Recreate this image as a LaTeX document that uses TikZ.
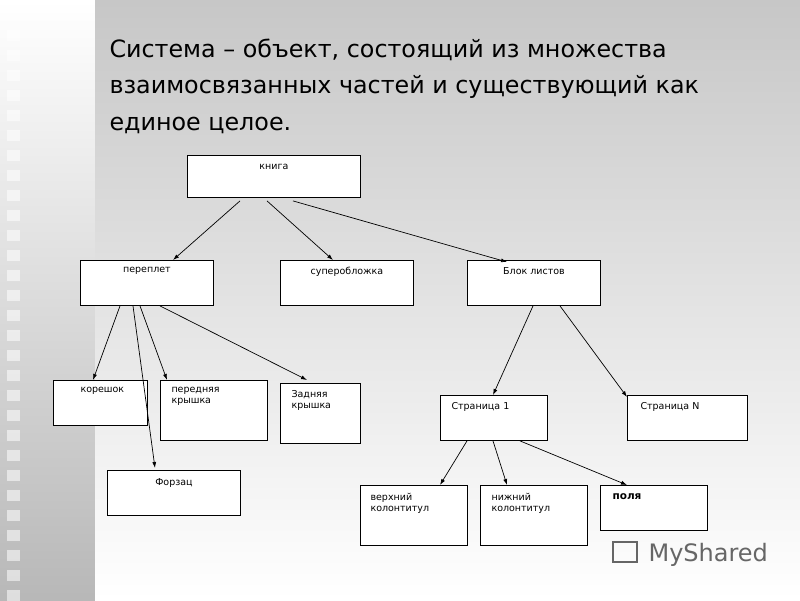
\documentclass[tikz,border=0pt]{standalone}
\usepackage{fontspec}
\setmainfont{DejaVu Sans}
\usetikzlibrary{calc,arrows.meta}
\begin{document}
\begin{tikzpicture}[x=1pt,y=-1pt,
  bx/.style={draw=black,fill=white,line width=0.9pt,anchor=north west,inner sep=0pt},
  lbl/.style={font=\fontsize{9.5}{10.5}\selectfont,align=left,anchor=north west},
  ar/.style={-{Latex[length=6pt,width=4pt]},line width=0.7pt}]
\useasboundingbox (0,0) rectangle (800,600);
\shade[top color=white,bottom color=black!28] (0,0) rectangle (95,600);
\shade[top color=black!22,bottom color=white] (95,0) rectangle (800,600);
\foreach \i in {0,...,28} {
  \fill[white,opacity=0.55] (7,{30+\i*20}) rectangle (20,{41+\i*20});
}
\node[anchor=north west,align=left,font=\fontsize{23.8}{36.5}\selectfont] (title) at (106,35)
 {Система – объект, состоящий из  множества\\взаимосвязанных частей и существующий как\\единое целое.};
\newcommand\mybox[5]{\node[bx,minimum width=#4,minimum height=#5] (#1) at (#2,#3) {};}
\mybox{kn}{187}{155}{173}{42}
\mybox{pe}{80}{260}{133}{45}
\mybox{su}{280}{260}{133}{45}
\mybox{bl}{467}{260}{133}{45}
\mybox{ko}{53}{380}{94}{45}
\mybox{pk}{160}{380}{107}{60}
\mybox{zk}{280}{383}{80}{60}
\mybox{fo}{107}{470}{133}{45}
\mybox{s1}{440}{395}{107}{45}
\mybox{sn}{627}{395}{120}{45}
\mybox{vk}{360}{485}{107}{60}
\mybox{nk}{480}{485}{107}{60}
\mybox{po}{600}{485}{107}{45}
\node[lbl,anchor=north] at ($(kn.north)+(0,6)$) {книга};
\node[lbl,anchor=north] at ($(pe.north)+(0,4)$) {переплет};
\node[lbl,anchor=north] at ($(su.north)+(0,4)$) {суперобложка};
\node[lbl,anchor=north] at ($(bl.north)+(0,4)$) {Блок листов};
\node[lbl] at ($(ko.north west)+(24,4)$) {корешок};
\node[lbl] at ($(pk.north west)+(8,4)$) {передняя\\крышка};
\node[lbl] at ($(zk.north west)+(8,4)$) {Задняя\\крышка};
\node[lbl,anchor=north] at ($(fo.north)+(0,5)$) {Форзац};
\node[lbl] at ($(s1.north west)+(8,4)$) {Страница 1};
\node[lbl] at ($(sn.north west)+(10,4)$) {Страница  N};
\node[lbl] at ($(vk.north west)+(7,5)$) {верхний\\колонтитул};
\node[lbl] at ($(nk.north west)+(8,5)$) {нижний\\колонтитул};
\node[lbl,font=\fontsize{10.5}{11}\selectfont\bfseries] at ($(po.north west)+(9,5)$) {поля};
\draw[ar] ($(kn.south west)+(53,3)$) -- ($(pe.north west)+(93,0)$);
\draw[ar] ($(kn.south west)+(80,3)$) -- ($(su.north west)+(53,0)$);
\draw[ar] ($(kn.south west)+(106,3)$) -- ($(bl.north west)+(40,2)$);
\draw[ar] ($(pe.south west)+(40,0)$) -- ($(ko.north west)+(40,0)$);
\draw[ar] ($(pe.south west)+(53,0)$) -- ($(fo.north west)+(48,-2)$);
\draw[ar] ($(pe.south west)+(60,0)$) -- ($(pk.north west)+(7,0)$);
\draw[ar] ($(pe.south west)+(80,0)$) -- ($(zk.north west)+(27,-3)$);
\draw[ar] ($(bl.south west)+(66,0)$) -- ($(s1.north west)+(53,0)$);
\draw[ar] ($(bl.south west)+(93,0)$) -- ($(sn.north west)+(0,2)$);
\draw[ar] ($(s1.south west)+(27,0)$) -- ($(vk.north west)+(80,0)$);
\draw[ar] ($(s1.south west)+(53,0)$) -- ($(nk.north west)+(27,0)$);
\draw[ar] ($(s1.south west)+(80,0)$) -- ($(po.north west)+(27,0)$);
\node[anchor=west,text=black!60,font=\fontsize{24}{26}\selectfont] (ms) at (645,555) {MyShared};
\node[draw=black!60,line width=1.5pt,minimum width=24,minimum height=20] (logo) at (625,552) {};
\end{tikzpicture}
\end{document}
